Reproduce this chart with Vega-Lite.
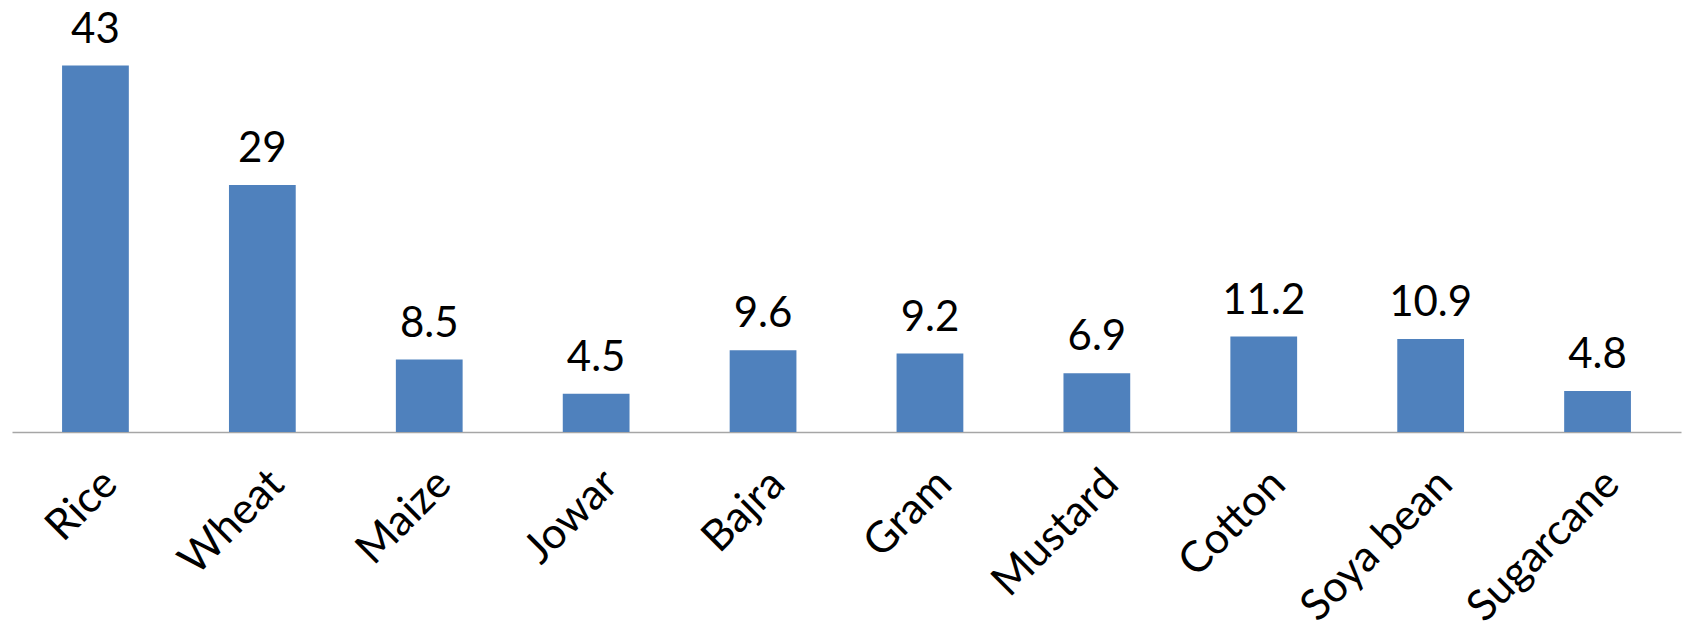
{
  "$schema": "https://vega.github.io/schema/vega-lite/v6.json",
  "autosize": {"type": "none"},
  "padding": {"left": 12, "top": 0, "right": 2, "bottom": 205},
  "width": 1669,
  "height": 432,
  "background": "white",
  "config": {"view": {"stroke": null}, "font": "Lato"},
  "data": {"values": [
    {"crop": "Rice", "value": 43},
    {"crop": "Wheat", "value": 29},
    {"crop": "Maize", "value": 8.5},
    {"crop": "Jowar", "value": 4.5},
    {"crop": "Bajra", "value": 9.6},
    {"crop": "Gram", "value": 9.2},
    {"crop": "Mustard", "value": 6.9},
    {"crop": "Cotton", "value": 11.2},
    {"crop": "Soya bean", "value": 10.9},
    {"crop": "Sugarcane", "value": 4.8}
  ]},
  "encoding": {
    "x": {"field": "crop", "type": "nominal", "sort": null,
      "scale": {"paddingInner": 0.6, "paddingOuter": 0.3},
      "axis": {"title": null, "labelAngle": -45, "labelFontSize": 43, "labelFont": "Lato", "labelColor": "black", "labelLimit": 0,
        "ticks": false, "domainColor": "#A6A6A6", "domainWidth": 1.5, "labelPadding": 30, "labelDx": -14, "labelOverlap": false, "labelBound": false}},
    "y": {"field": "value", "type": "quantitative", "scale": {"domain": [0, 50.7], "nice": false, "zero": true}, "axis": null}
  },
  "layer": [
    {"mark": {"type": "bar", "color": "#4F81BD"}},
    {"mark": {"type": "text", "baseline": "alphabetic", "dy": -23, "fontSize": 42, "color": "black", "font": "Lato"},
     "encoding": {"text": {"field": "value", "type": "quantitative"}}}
  ]
}
